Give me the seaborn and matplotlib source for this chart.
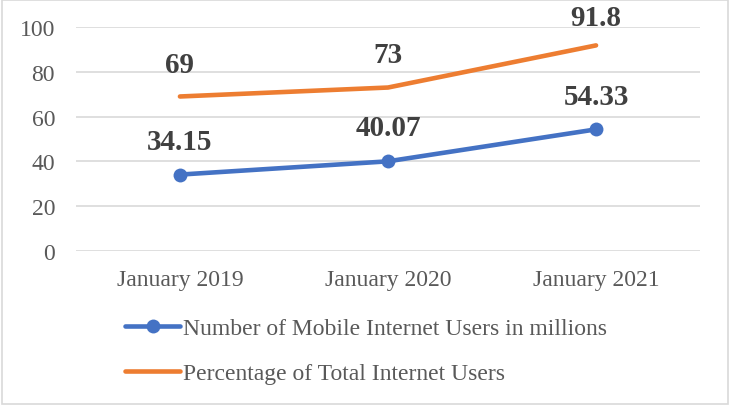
import matplotlib
matplotlib.use("Agg")
import matplotlib.pyplot as plt
import seaborn as sns
import pandas as pd
from matplotlib.patches import Rectangle

categories = ["January 2019", "January 2020", "January 2021"]
mobile_users = [34.15, 40.07, 54.33]
pct_total = [69, 73, 91.8]
mobile_labels = ["34.15", "40.07", "54.33"]
pct_labels = ["69", "73", "91.8"]
series_names = ["Number of Mobile Internet Users in millions",
                "Percentage of Total Internet Users"]

sns.set_theme(style="white")
plt.rcParams['font.family'] = ['Liberation Serif', 'DejaVu Serif']

df = pd.DataFrame({
    "x": list(range(len(categories))) * 2,
    "value": mobile_users + pct_total,
    "series": [series_names[0]] * 3 + [series_names[1]] * 3,
})

fig = plt.figure(figsize=(7.3, 4.06), dpi=100)
ax = fig.add_axes([0.104, 0.379, 0.855, 0.552])

blue = "#4472C4"
orange = "#ED7D31"

sns.lineplot(data=df[df.series == series_names[0]], x="x", y="value", ax=ax,
             color=blue, lw=3.3, marker="o", markersize=10, markeredgewidth=0,
             label=series_names[0], solid_capstyle="round")
sns.lineplot(data=df[df.series == series_names[1]], x="x", y="value", ax=ax,
             color=orange, lw=3.3, label=series_names[1], solid_capstyle="round")

mobile_offsets = [24, 24, 24]
pct_offsets = [23, 24, 20]
for i, (v, s) in enumerate(zip(mobile_users, mobile_labels)):
    ax.annotate(s, (i, v), xytext=(0, mobile_offsets[i]), textcoords="offset points",
                ha="center", va="center", fontsize=21, fontweight="bold", color="#404040")
for i, (v, s) in enumerate(zip(pct_total, pct_labels)):
    ax.annotate(s, (i, v), xytext=(0, pct_offsets[i]), textcoords="offset points",
                ha="center", va="center", fontsize=21, fontweight="bold", color="#404040")

ax.set_xlim(-0.5, 2.5)
ax.set_ylim(0, 100)
ax.set_yticks([0, 20, 40, 60, 80, 100])
ax.set_xticks(range(len(categories)))
ax.set_xticklabels(categories)
ax.set_xlabel("")
ax.set_ylabel("")
ax.grid(axis="y", color="#d9d9d9", lw=1.2)
ax.set_axisbelow(True)
for sp in ax.spines.values():
    sp.set_visible(False)
ax.tick_params(axis="both", length=0, labelsize=17, labelcolor="#595959")
ax.tick_params(axis="x", pad=13)
ax.tick_params(axis="y", pad=15)

ax.legend(loc="upper left", bbox_to_anchor=(0.064, -0.255), frameon=False,
          fontsize=17, labelcolor="#595959", handlelength=2.33, handletextpad=0.13,
          labelspacing=1.0, borderaxespad=0)

fig.patches.append(Rectangle((0.003, 0.002), 0.994, 0.995, transform=fig.transFigure,
                             fill=False, edgecolor="#d9d9d9", lw=1.2))

fig.savefig("out.png", dpi=100)
